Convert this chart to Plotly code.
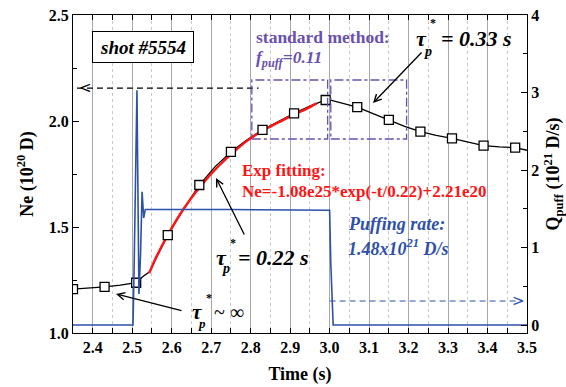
import plotly.graph_objects as go

# ---------------- data ----------------
# line-averaged density Ne (10^20 D)
ne_time = [2.35, 2.39, 2.43, 2.47, 2.51, 2.528, 2.545, 2.56, 2.59, 2.63, 2.67, 2.71, 2.75, 2.79,
           2.83, 2.87, 2.91, 2.95, 2.99, 3.00, 3.03, 3.07, 3.11, 3.15, 3.19, 3.23, 3.27, 3.31,
           3.35, 3.39, 3.43, 3.47, 3.50]
ne_value = [1.207, 1.212, 1.218, 1.226, 1.237, 1.268, 1.29, 1.35, 1.462, 1.585, 1.698, 1.785, 1.854, 1.91,
            1.958, 1.997, 2.036, 2.07, 2.099, 2.10, 2.085, 2.065, 2.035, 2.005, 1.975, 1.950, 1.932, 1.918,
            1.90, 1.884, 1.878, 1.874, 1.862]
# square sample markers
sample_time = [2.35, 2.43, 2.51, 2.59, 2.67, 2.75, 2.83, 2.91, 2.99, 3.07, 3.15, 3.23, 3.31, 3.39, 3.47]
sample_ne = [1.207, 1.218, 1.237, 1.462, 1.698, 1.854, 1.958, 2.036, 2.099, 2.065, 2.005, 1.950, 1.918, 1.884, 1.874]
# exponential fit (red)
fit_time = [2.543, 2.56, 2.59, 2.63, 2.672, 2.72, 2.756, 2.79, 2.828, 2.87, 2.909, 2.94, 2.967]
fit_ne = [1.282, 1.355, 1.462, 1.585, 1.69, 1.79, 1.852, 1.905, 1.952, 1.993, 2.03, 2.056, 2.083]
# puffing rate Q_puff (10^21 D/s)
puff_time = [2.35, 2.502, 2.505, 2.512, 2.517, 2.521, 2.525, 2.529, 2.533, 2.75, 3.0, 3.003, 3.009, 3.5]
puff_rate = [0.0, 0.0, 0.8, 3.03, 0.4, 0.9, 1.72, 1.38, 1.49, 1.49, 1.48, 0.8, 0.0, 0.0]
# reference dashed levels
ne_level_time = [2.36, 2.82]
ne_level = [2.155, 2.155]
puff_level_time = [3.0, 3.49]
puff_level = [0.31, 0.31]

# ---------------- style ----------------
FONT = "Liberation Serif"
BLUE = "#2d50aa"
RED = "#ff1414"
PURPLE = "#6a50b0"
L, R, T, B = 73, 527, 15, 333
XR = (2.35, 3.5)
YR = (1.0, 2.5)


def tx(px):
    return XR[0] + (px - L) / (R - L) * (XR[1] - XR[0])


def ny(py):
    return YR[0] + (B - py) / (B - T) * (YR[1] - YR[0])


fig = go.Figure()

fig.add_trace(go.Scatter(x=ne_level_time, y=ne_level, mode="lines",
                         line=dict(color="black", width=1.2, dash="6px,4px"), hoverinfo="skip"))
fig.add_trace(go.Scatter(x=puff_level_time, y=puff_level, yaxis="y2", mode="lines",
                         line=dict(color=BLUE, width=1.2, dash="6px,4px"), hoverinfo="skip"))
fig.add_trace(go.Scatter(x=puff_time, y=puff_rate, yaxis="y2", mode="lines",
                         line=dict(color=BLUE, width=1.6)))
fig.add_trace(go.Scatter(x=ne_time, y=ne_value, mode="lines",
                         line=dict(color="black", width=1.3)))
fig.add_trace(go.Scatter(x=fit_time, y=fit_ne, mode="lines",
                         line=dict(color=RED, width=2.4, shape="spline")))
fig.add_trace(go.Scatter(x=sample_time, y=sample_ne, mode="markers",
                         marker=dict(symbol="square", size=9, color="white",
                                     line=dict(color="black", width=1.3))))

# purple dash-dot boxes (standard method windows)
for x0, x1 in [(2.803, 2.995), (3.003, 3.195)]:
    fig.add_shape(type="rect", xref="x", yref="y", x0=x0, x1=x1, y0=ny(139), y1=ny(80),
                  line=dict(color=PURPLE, width=1.3, dash="dashdot"))

ann = []


def text(x, y, s, size, color="black", xanchor="center", family=FONT, **kw):
    d = dict(x=(x - L) / (R - L), y=(B - y) / (B - T), xref="paper", yref="paper",
             text=s, showarrow=False, xanchor=xanchor, yanchor="middle",
             font=dict(family=family, size=size, color=color))
    d.update(kw)
    ann.append(d)


def arrow(x_tail, y_tail, x_head, y_head):
    ann.append(dict(x=tx(x_head), y=ny(y_head), ax=tx(x_tail), ay=ny(y_tail),
                    xref="x", yref="y", axref="x", ayref="y", text="", showarrow=True,
                    arrowhead=5, arrowsize=1.1, arrowwidth=1.3, arrowcolor="black"))


# shot box
text(143, 47, "<b><i>shot #5554</i></b>", 19, bordercolor="black", borderwidth=1,
     bgcolor="white", borderpad=3, width=94, height=24)
# standard method
text(254, 37, "<b>standard method:</b>", 17.5, PURPLE, xanchor="left")
text(254, 59, "<b><i>f<sub>puff</sub>=0.11</i></b>", 17.5, PURPLE, xanchor="left")
# tau = 0.33 s
text(421, 38, "<b><i>τ</i></b>", 22)
text(433, 23, "<b>*</b>", 12)
text(428, 52, "<b><i>p</i></b>", 14)
text(439, 38, "<b><i>= 0.33 s</i></b>", 22, xanchor="left")
arrow(423, 51, 373, 103)
# exp fitting
text(240, 170, "<b>Exp fitting:</b>", 17, RED, xanchor="left")
text(240, 191, "<b>Ne=-1.08e25*exp(-t/0.22)+2.21e20</b>", 17, RED, xanchor="left")
# tau = 0.22 s
text(221, 257, "<b><i>τ</i></b>", 22)
text(233, 243, "<b>*</b>", 12)
text(226, 268, "<b><i>p</i></b>", 14)
text(236, 257, "<b><i>= 0.22 s</i></b>", 22, xanchor="left")
arrow(245, 236, 216, 178)
# tau ~ infinity
text(197, 312, "<b><i>τ</i></b>", 21)
text(209, 298, "<b>*</b>", 12)
text(202, 323, "<b><i>p</i></b>", 13)
text(212, 312, "~ ∞", 20, xanchor="left")
arrow(183, 311, 116, 294)
# puffing rate
text(346, 224, "<b><i>Puffing rate:</i></b>", 18, BLUE, xanchor="left")
text(346, 247, "<b><i>1.48x10<sup>21</sup> D/s</i></b>", 18, BLUE, xanchor="left")
# chevrons at the ends of the dashed levels
text(77, 88, "<", 15, xanchor="left", family="DejaVu Sans")
text(527, 301, ">", 15, BLUE, xanchor="right", family="DejaVu Sans")

tickfont = dict(family=FONT, size=16, color="black", weight="bold")
titlefont = dict(family=FONT, size=18, color="black", weight="bold")

fig.update_layout(
    width=566, height=387,
    margin=dict(l=L, r=566 - R, t=T, b=387 - B, autoexpand=False),
    paper_bgcolor="white", plot_bgcolor="white",
    showlegend=False,
    annotations=ann,
    xaxis=dict(range=list(XR), dtick=0.1, tick0=2.4, tickformat=".1f", automargin=False,
               showgrid=True, gridcolor="#a8a8a8", gridwidth=1,
               minor=dict(dtick=0.05, tick0=2.35, showgrid=True, gridcolor="#c8c8c8",
                          griddash="dot", ticks="inside", ticklen=5, tickcolor="black"),
               ticks="inside", ticklen=5, tickcolor="black",
               showline=True, linecolor="black", linewidth=1.2, mirror="ticks",
               zeroline=False, tickfont=tickfont,
               title=dict(text="Time (s)", font=titlefont, standoff=12)),
    yaxis=dict(range=list(YR), dtick=0.5, tick0=1.0, tickformat=".1f", automargin=False,
               showgrid=False, zeroline=False,
               minor=dict(dtick=0.25, ticks="inside", ticklen=4, tickcolor="black"),
               ticks="inside", ticklen=6, tickcolor="black",
               showline=True, linecolor="black", linewidth=1.2,
               tickfont=tickfont,
               title=dict(text="Ne (10<sup>20</sup> D)", font=titlefont, standoff=10)),
    yaxis2=dict(range=[-0.103, 4], overlaying="y", side="right", dtick=1, tick0=0, automargin=False,
                showgrid=False, zeroline=False,
                minor=dict(dtick=0.5, ticks="inside", ticklen=4, tickcolor="black"),
                ticks="inside", ticklen=6, tickcolor="black",
                showline=True, linecolor="black", linewidth=1.2,
                tickfont=tickfont,
                title=dict(text="Q<sub>puff</sub> (10<sup>21</sup> D/s)", font=titlefont, standoff=12)),
)

fig.write_html("out.html", config={"displayModeBar": False},
               post_script="document.body.style.margin='0';document.body.style.overflow='hidden';")
